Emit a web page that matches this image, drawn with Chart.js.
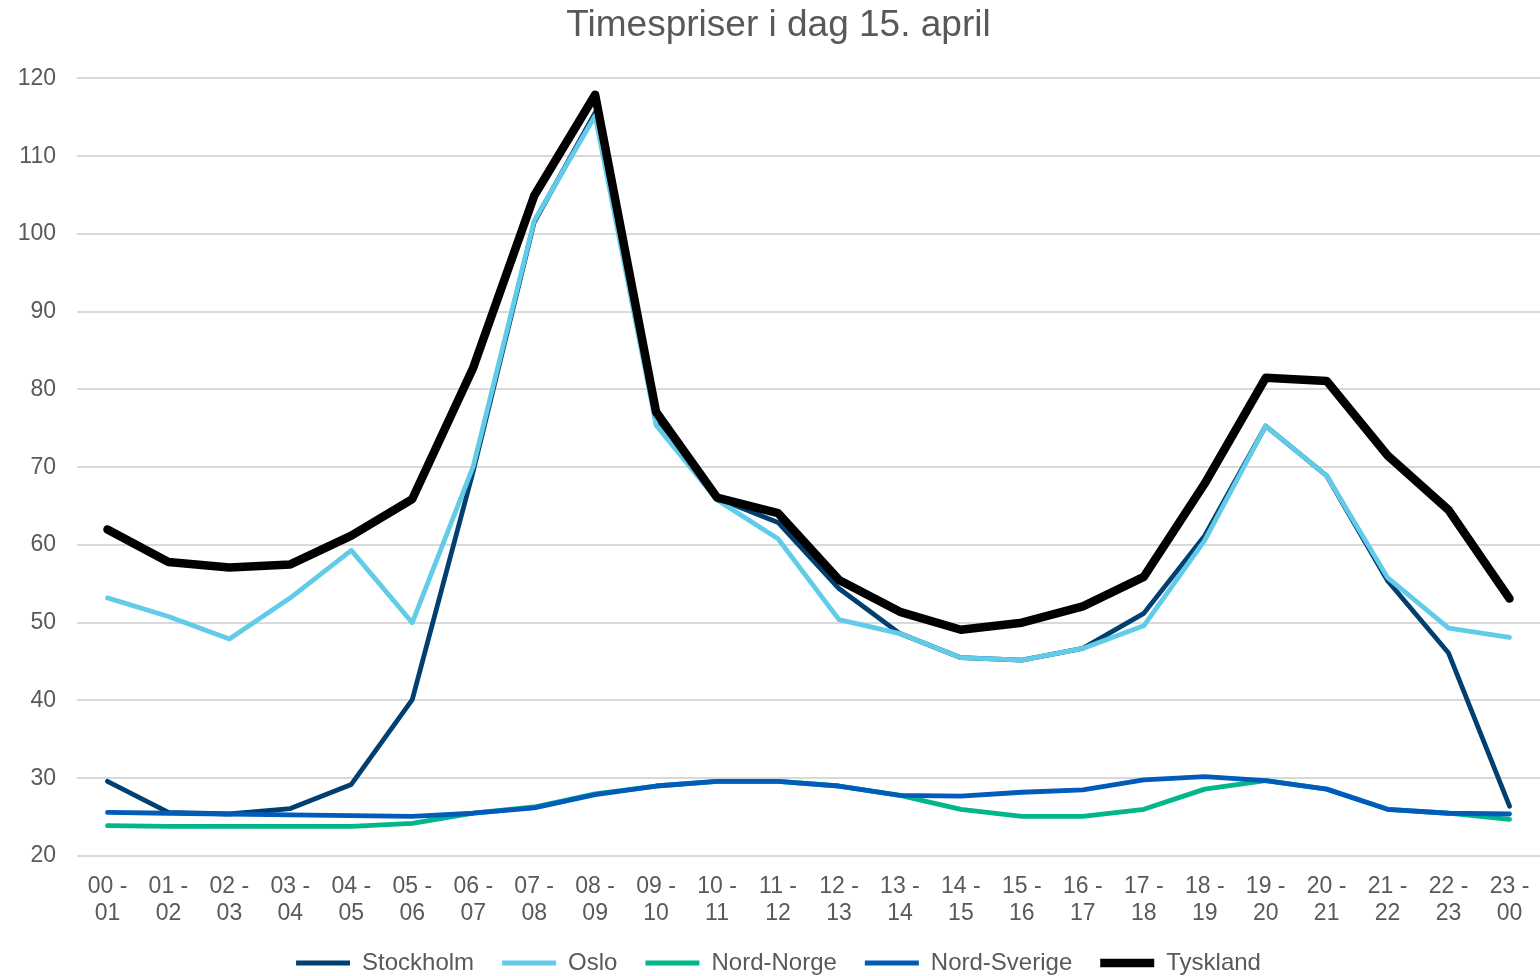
<!DOCTYPE html>
<html>
<head>
<meta charset="utf-8">
<script src="https://cdn.jsdelivr.net/npm/chart.js@4"></script>
<style>
  html, body { margin: 0; padding: 0; background: #fff; overflow: hidden; }
  #wrap { width: 1540px; height: 976px; }
</style>
</head>
<body>
<div id="wrap"><canvas id="chartPriser"></canvas></div>
<script>
// Timer (to linjer per etikett)
const hours = [
  ["00 -", "01"], ["01 -", "02"], ["02 -", "03"], ["03 -", "04"],
  ["04 -", "05"], ["05 -", "06"], ["06 -", "07"], ["07 -", "08"],
  ["08 -", "09"], ["09 -", "10"], ["10 -", "11"], ["11 -", "12"],
  ["12 -", "13"], ["13 -", "14"], ["14 -", "15"], ["15 -", "16"],
  ["16 -", "17"], ["17 -", "18"], ["18 -", "19"], ["19 -", "20"],
  ["20 -", "21"], ["21 -", "22"], ["22 -", "23"], ["23 -", "00"],
];

const stockholm = [
  29.6, 25.6, 25.4, 26.1, 29.2, 40.1, 69.5, 101.5, 115.6, 76.0, 66.0, 62.9,
  54.4, 48.6, 45.5, 45.2, 46.7, 51.2, 61.2, 75.3, 68.9, 55.4, 46.1, 26.4,
];
const oslo = [
  53.2, 50.8, 47.9, 53.2, 59.3, 50.0, 70.1, 101.7, 115.2, 75.4, 65.8, 60.8,
  50.4, 48.6, 45.5, 45.2, 46.7, 49.6, 60.6, 75.3, 68.9, 55.8, 49.3, 48.1,
];
const nordNorge = [
  23.9, 23.8, 23.8, 23.8, 23.8, 24.2, 25.5, 26.3, 28.0, 29.0, 29.6, 29.6,
  29.0, 27.8, 26.0, 25.1, 25.1, 26.0, 28.6, 29.7, 28.6, 26.0, 25.5, 24.7,
];
const nordSverige = [
  25.6, 25.5, 25.4, 25.3, 25.2, 25.1, 25.5, 26.2, 27.9, 29.0, 29.6, 29.6,
  29.0, 27.8, 27.7, 28.2, 28.5, 29.8, 30.2, 29.7, 28.6, 26.0, 25.5, 25.4,
];
const tyskland = [
  62.0, 57.8, 57.1, 57.5, 61.2, 65.9, 82.8, 104.9, 117.9, 77.1, 66.1, 64.1,
  55.5, 51.4, 49.1, 50.0, 52.1, 55.9, 67.9, 81.5, 81.1, 71.5, 64.5, 53.1,
];

const textColor = "#595959";
const fontFamily = "'Liberation Sans', Arial, sans-serif";

function line(label, data, color, width, order) {
  return {
    label: label,
    data: data,
    borderColor: color,
    backgroundColor: color,
    borderWidth: width,
    pointRadius: 0,
    pointHoverRadius: 0,
    tension: 0,
    borderJoinStyle: "round",
    borderCapStyle: "round",
    fill: false,
    order: order,
  };
}

const ctx = document.getElementById("chartPriser").getContext("2d");
new Chart(ctx, {
  type: "line",
  data: {
    labels: hours,
    datasets: [
      line("Stockholm", stockholm, "#003f6f", 4.8, 5),
      line("Oslo", oslo, "#61cbe8", 4.8, 4),
      line("Nord-Norge", nordNorge, "#00b68a", 4.8, 3),
      line("Nord-Sverige", nordSverige, "#005bbb", 4.8, 2),
      line("Tyskland", tyskland, "#000000", 8.5, 1),
    ],
  },
  options: {
    responsive: true,
    maintainAspectRatio: false,
    animation: false,
    layout: {
      padding: { left: 17, right: 0, top: 4, bottom: -9 },
    },
    scales: {
      x: {
        offset: true,
        grid: { display: false, drawTicks: false },
        border: { display: false },
        ticks: {
          color: textColor,
          padding: 17,
          maxRotation: 0,
          autoSkip: false,
          font: { family: fontFamily, size: 23, lineHeight: 1.17 },
        },
        afterFit: function (scale) {
          scale.paddingLeft = 0;
          scale.paddingRight = 0;
          scale.height = 67;
        },
      },
      y: {
        min: 20,
        max: 120,
        grid: { color: "#d9d9d9", lineWidth: 2, drawTicks: false },
        border: { display: false },
        ticks: {
          stepSize: 10,
          color: textColor,
          padding: 21,
          font: { family: fontFamily, size: 23 },
        },
        afterFit: function (scale) {
          scale.width = 60;
        },
      },
    },
    plugins: {
      title: {
        display: true,
        text: "Timespriser i dag 15. april",
        color: textColor,
        font: { family: fontFamily, size: 37, weight: "normal" },
        padding: { top: 0, bottom: 30 },
      },
      legend: {
        position: "bottom",
        labels: {
          usePointStyle: true,
          pointStyle: "line",
          pointStyleWidth: 54,
          color: textColor,
          padding: 28,
          font: { family: fontFamily, size: 24 },
          sort: function (a, b) {
            return a.datasetIndex - b.datasetIndex;
          },
        },
      },
      tooltip: { enabled: false },
    },
  },
});
</script>
</body>
</html>
